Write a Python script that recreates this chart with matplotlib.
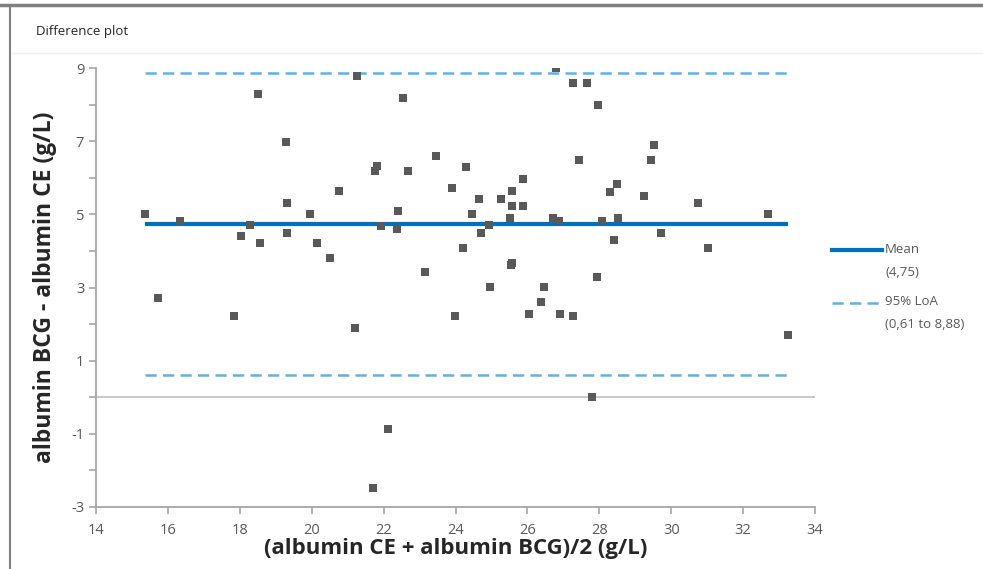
import matplotlib
matplotlib.use("Agg")
import matplotlib.pyplot as plt
from matplotlib.lines import Line2D

mean_x = [15.36, 15.72, 16.34, 17.85, 18.03, 18.28, 18.52, 18.56, 19.28, 19.31,
          19.31, 19.94, 20.14, 20.52, 20.77, 21.20, 21.25, 21.71, 21.77, 21.81,
          21.93, 22.13, 22.36, 22.39, 22.55, 22.67, 23.15, 23.46, 23.89, 23.99,
          24.22, 24.29, 24.45, 24.65, 24.72, 24.93, 24.96, 25.27, 25.52, 25.56,
          25.56, 25.57, 25.55, 25.89, 25.89, 26.05, 26.37, 26.47, 26.70, 26.80,
          26.89, 26.91, 27.26, 27.26, 27.43, 27.67, 27.79, 27.94, 27.97, 28.07,
          28.30, 28.42, 28.50, 28.53, 29.24, 29.44, 29.52, 29.72, 30.75, 31.02,
          32.68, 33.24]
diff_y = [5.02, 2.70, 4.81, 2.21, 4.42, 4.70, 8.31, 4.22, 6.98, 5.30,
          4.49, 5.02, 4.22, 3.82, 5.63, 1.89, 8.79, -2.48, 6.18, 6.32,
          4.69, -0.88, 4.61, 5.10, 8.19, 6.19, 3.43, 6.59, 5.71, 2.22,
          4.09, 6.31, 5.02, 5.42, 4.49, 4.70, 3.01, 5.42, 4.90, 5.63,
          5.22, 3.68, 3.61, 5.98, 5.22, 2.28, 2.60, 3.01, 4.90, 9.00,
          4.81, 2.28, 8.59, 2.22, 6.50, 8.59, 0.00, 3.29, 7.99, 4.81,
          5.62, 4.29, 5.82, 4.90, 5.50, 6.50, 6.90, 4.49, 5.30, 4.09,
          5.02, 1.69]
mean_diff = 4.75
loa_low = 0.61
loa_high = 8.88
x_ticks = [14, 16, 18, 20, 22, 24, 26, 28, 30, 32, 34]
y_ticks = [-3, -1, 1, 3, 5, 7, 9]

FONT = "Open Sans"
plt.rcParams['font.family'] = [FONT, 'DejaVu Sans']
plt.rcParams['axes.unicode_minus'] = False

fig = plt.figure(figsize=(9.83, 5.69), dpi=100)
ax = fig.add_axes([96/983, 1-506.7/569, (815-96)/983, (506.7-68.3)/569])

gray_tick = "#595959"
axis_col = "#a6a6a6"

xmin, xmax = min(mean_x), max(mean_x)
ax.axhline(0, color="#bfbfbf", lw=1.2, zorder=1)
ax.plot([xmin, xmax], [mean_diff, mean_diff], color="#0070c0", lw=3, zorder=2,
        solid_capstyle='butt')
for v in (loa_low, loa_high):
    ax.plot([xmin, xmax], [v, v], color="#5bb4e5", lw=1.8, dashes=(4.5, 2.5), zorder=2)
ax.scatter(mean_x, diff_y, marker='s', s=28, color="#595959", zorder=3, linewidths=0)

ax.set_xlim(14, 34)
ax.set_ylim(-3, 9)
ax.set_xticks(x_ticks)
ax.set_yticks(y_ticks)
ax.set_yticks([-2, 0, 2, 4, 6, 8], minor=True)
for s in ("top", "right"):
    ax.spines[s].set_visible(False)
for s in ("left", "bottom"):
    ax.spines[s].set_color(axis_col)
    ax.spines[s].set_linewidth(1.3)
ax.tick_params(axis='both', which='both', direction='out', length=5, width=1.2,
               color=axis_col, labelcolor=gray_tick, labelsize=10.5)
ax.tick_params(axis='x', pad=7)

ax.set_xlabel("(albumin CE + albumin BCG)/2 (g/L)", fontsize=16, fontweight='bold',
              color="#262626", labelpad=0)
ax.set_ylabel("albumin BCG - albumin CE (g/L)", fontsize=16.5, fontweight='bold',
              color="#262626", labelpad=10)

# chart frame & title
fig.add_artist(Line2D([0.0, 1.0], [1-5/569, 1-5/569], color="#7f7f7f", lw=2.5))
fig.add_artist(Line2D([10/983, 10/983], [0, 1-5/569], color="#7f7f7f", lw=1.5))
fig.add_artist(Line2D([12/983, 1.0], [1-53/569, 1-53/569], color="#eeeeee", lw=1))
fig.text(36/983, 1-31/569, "Difference plot", fontsize=9.5, color="#262626",
         va='center', ha='left')

# legend
lx0, lx1 = 832/983, 882/983
fig.add_artist(Line2D([lx0, lx1], [1-250/569]*2, color="#0070c0", lw=3))
fig.add_artist(Line2D([lx0, lx1], [1-303/569]*2, color="#5bb4e5", lw=1.8,
                      dashes=(4.5, 2.5)))
for txt, yy in (("Mean", 250), ("(4,75)", 272), ("95% LoA", 302), ("(0,61 to 8,88)", 325)):
    fig.text(885/983, 1-yy/569, txt, fontsize=9.5, color=gray_tick, va='center', ha='left')

fig.savefig("out.png", dpi=100)
